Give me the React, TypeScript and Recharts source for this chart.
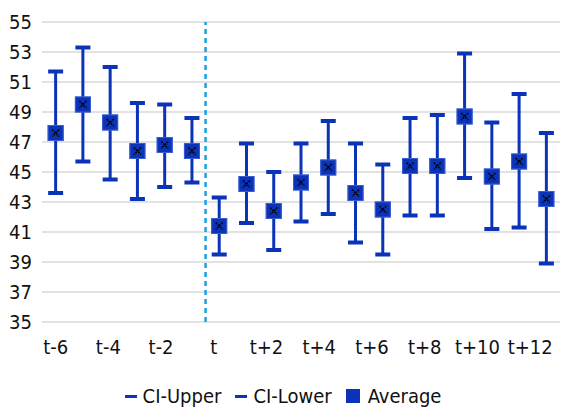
import React from 'react'
import {
  ScatterChart,
  Scatter,
  XAxis,
  YAxis,
  CartesianGrid,
  ErrorBar,
  ReferenceLine,
  Legend,
} from 'recharts'

const periods = ['t-6', 't-5', 't-4', 't-3', 't-2', 't-1', 't', 't+1', 't+2', 't+3', 't+4', 't+5', 't+6', 't+7', 't+8', 't+9', 't+10', 't+11', 't+12']
const ciUpper = [51.7, 53.3, 52.0, 49.6, 49.5, 48.6, 43.3, 46.9, 45.0, 46.9, 48.4, 46.9, 45.5, 48.6, 48.8, 52.9, 48.3, 50.2, 47.6]
const average = [47.6, 49.5, 48.3, 46.4, 46.8, 46.4, 41.4, 44.2, 42.4, 44.3, 45.3, 43.6, 42.5, 45.4, 45.4, 48.7, 44.7, 45.7, 43.2]
const ciLower = [43.6, 45.7, 44.5, 43.2, 44.0, 44.3, 39.5, 41.6, 39.8, 41.7, 42.2, 40.3, 39.5, 42.1, 42.1, 44.6, 41.2, 41.3, 38.9]
const yTicks = [35, 37, 39, 41, 43, 45, 47, 49, 51, 53, 55]
const xTicks = [0, 2, 4, 6, 8, 10, 12, 14, 16, 18]

const BLUE = '#0b33b8'
const FONT = '"DejaVu Sans Condensed", "Liberation Sans", Arial, sans-serif'

const upperData = ciUpper.map((y, i) => ({ x: i, y }))
const lowerData = ciLower.map((y, i) => ({ x: i, y }))
const avgData = average.map((y, i) => ({ x: i, y, err: [y - ciLower[i], ciUpper[i] - y] }))

// eslint-disable-next-line @typescript-eslint/no-explicit-any
function Cap({ cx, cy }: any) {
  return <rect x={cx - 7.5} y={cy - 2} width={15} height={4} fill={BLUE} />
}

// eslint-disable-next-line @typescript-eslint/no-explicit-any
function AvgMarker({ cx, cy }: any) {
  return (
    <g>
      <rect x={cx - 7.5} y={cy - 7.5} width={15} height={15} fill={BLUE} stroke="#3a5cd0" strokeWidth={1} />
      <path
        d={`M${cx - 3.5},${cy - 3.5}L${cx + 3.5},${cy + 3.5}M${cx + 3.5},${cy - 3.5}L${cx - 3.5},${cy + 3.5}`}
        stroke="#000"
        strokeWidth={1.5}
        strokeDasharray="2 1"
      />
    </g>
  )
}

// labels sit slightly left of their category, drifting more to the right
// eslint-disable-next-line @typescript-eslint/no-explicit-any
function PeriodTick({ x, y, payload }: any) {
  const shift = -0.9 * payload.value
  return (
    <text x={x + shift} y={y} dy={20} textAnchor="middle" fill="#111" fontSize={20} fontFamily={FONT}>
      {periods[payload.value]}
    </text>
  )
}

function LegendContent() {
  const item = { display: 'flex', alignItems: 'center', marginRight: 14 }
  return (
    <div style={{ display: 'flex', justifyContent: 'center', fontFamily: FONT, fontSize: 20, color: '#111', paddingLeft: 20, paddingTop: 4 }}>
      <div style={item}>
        <div style={{ width: 12, height: 3, background: BLUE, marginRight: 6 }} />
        CI-Upper
      </div>
      <div style={item}>
        <div style={{ width: 12, height: 3, background: BLUE, marginRight: 6 }} />
        CI-Lower
      </div>
      <div style={item}>
        <div style={{ width: 14, height: 14, background: BLUE, marginRight: 8 }} />
        Average
      </div>
    </div>
  )
}

export default function App() {
  const tick = { fill: '#111', fontSize: 20, fontFamily: FONT }
  return (
    <div style={{ width: 567, height: 408 }}>
      <style>{'body{margin:0}'}</style>
      <ScatterChart width={567} height={408} margin={{ top: 22, right: 7, bottom: 2, left: 0 }}>
        <CartesianGrid vertical={false} stroke="#d9d9d9" strokeWidth={1.5} />
        <XAxis
          type="number"
          dataKey="x"
          domain={[-0.5, 18.5]}
          ticks={xTicks}
          axisLine={false}
          tickLine={false}
          tick={<PeriodTick />}
          tickMargin={6}
          interval={0}
          height={58}
        />
        <YAxis
          type="number"
          dataKey="y"
          domain={[35, 55]}
          ticks={yTicks}
          axisLine={false}
          tickLine={false}
          tick={tick}
          width={42}
          tickMargin={4}
        />
        <ReferenceLine x={5.5} stroke="#1aa3e2" strokeWidth={2.5} strokeDasharray="5 4" />
        <Scatter name="Average" data={avgData} shape={<AvgMarker />} isAnimationActive={false}>
          <ErrorBar dataKey="err" direction="y" width={0} stroke={BLUE} strokeWidth={3} />
        </Scatter>
        <Scatter name="CI-Upper" data={upperData} shape={<Cap />} isAnimationActive={false} />
        <Scatter name="CI-Lower" data={lowerData} shape={<Cap />} isAnimationActive={false} />
        <Scatter name="Average top" data={avgData} shape={<AvgMarker />} isAnimationActive={false} legendType="none" />
        <Legend verticalAlign="bottom" height={26} content={<LegendContent />} />
      </ScatterChart>
    </div>
  )
}
